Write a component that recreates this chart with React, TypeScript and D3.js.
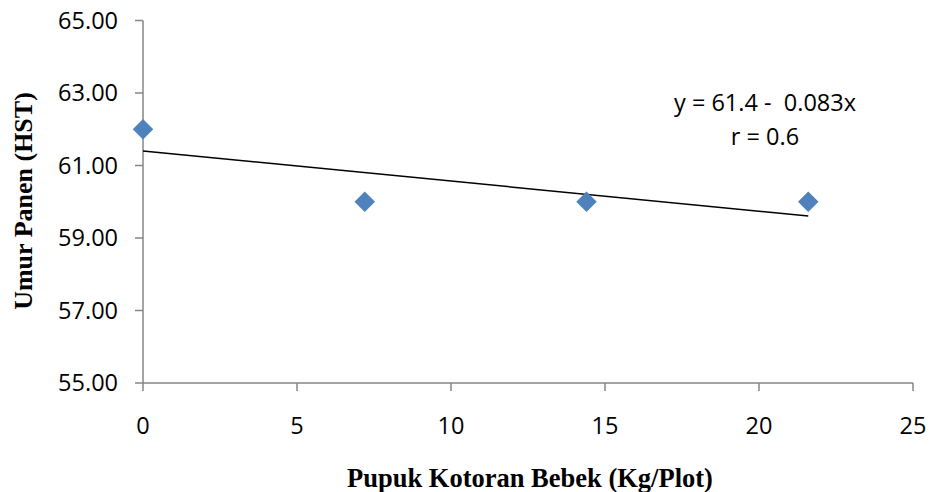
import React from "react";
import * as d3 from "d3";

const xValues = [0, 7.2, 14.4, 21.6];
const yValues = [62, 60, 60, 60];
const xTicks = [0, 5, 10, 15, 20, 25];
const yTicks = [55, 57, 59, 61, 63, 65];
const intercept = 61.4;
const slope = -0.083;
const eqLabel = "y = 61.4 -  0.083x";
const rLabel = "r = 0.6";
const xTitle = "Pupuk Kotoran Bebek (Kg/Plot)";
const yTitle = "Umur Panen (HST)";

export default function App() {
  const W = 934, H = 492;
  const x = d3.scaleLinear().domain([0, 25]).range([143, 913]);
  const y = d3.scaleLinear().domain([55, 65]).range([383, 20.5]);
  const axisColor = "#868686";
  const tickFont = "'Open Sans', 'Noto Sans', sans-serif";
  const titleFont = "'Liberation Serif', 'Times New Roman', serif";
  const line = d3.line<number>().x((d) => x(d)).y((d) => y(intercept + slope * d));
  const diamond = d3.symbol().type(d3.symbolSquare).size(210)();
  const fs = 23.5;
  return (
    <svg width={W} height={H} style={{ position: "absolute", left: 0, top: 0 }}>
      <rect width={W} height={H} fill="#fff" />
      {/* y axis */}
      <line x1={x(0)} x2={x(0)} y1={y(65)} y2={y(55)} stroke={axisColor} strokeWidth={1.5} />
      {yTicks.map((t) => (
        <g key={t}>
          <line x1={x(0) - 8} x2={x(0)} y1={y(t)} y2={y(t)} stroke={axisColor} strokeWidth={1.5} />
          <text x={118} y={y(t)} dy="0.36em" textAnchor="end" fontFamily={tickFont} fontSize={fs} fill="#000">
            {t.toFixed(2)}
          </text>
        </g>
      ))}
      {/* x axis */}
      <line x1={x(0)} x2={x(25)} y1={y(55)} y2={y(55)} stroke={axisColor} strokeWidth={1.5} />
      {xTicks.map((t) => (
        <g key={t}>
          <line x1={x(t)} x2={x(t)} y1={y(55)} y2={y(55) + 8} stroke={axisColor} strokeWidth={1.5} />
          <text x={x(t)} y={434} textAnchor="middle" fontFamily={tickFont} fontSize={fs} fill="#000">
            {t}
          </text>
        </g>
      ))}
      {/* trend line */}
      <path d={line([0, 21.6]) || ""} fill="none" stroke="#000" strokeWidth={1.5} />
      {/* points */}
      {xValues.map((v, i) => (
        <path
          key={i}
          d={diamond || ""}
          transform={`translate(${x(v)},${y(yValues[i])}) rotate(45)`}
          fill="#4f81bd"
        />
      ))}
      {/* equation */}
      <text x={765} y={111} textAnchor="middle" fontFamily={tickFont} fontSize={fs} fill="#000" style={{ whiteSpace: "pre" }}>
        {eqLabel}
      </text>
      <text x={765} y={145} textAnchor="middle" fontFamily={tickFont} fontSize={fs} fill="#000">
        {rLabel}
      </text>
      {/* titles */}
      <text x={530} y={487} textAnchor="middle" fontFamily={titleFont} fontWeight="bold" fontSize={26.5} fill="#000">
        {xTitle}
      </text>
      <text
        transform={`translate(32,201) rotate(-90)`}
        textAnchor="middle"
        fontFamily={titleFont}
        fontWeight="bold"
        fontSize={26}
        fill="#000"
      >
        {yTitle}
      </text>
    </svg>
  );
}
